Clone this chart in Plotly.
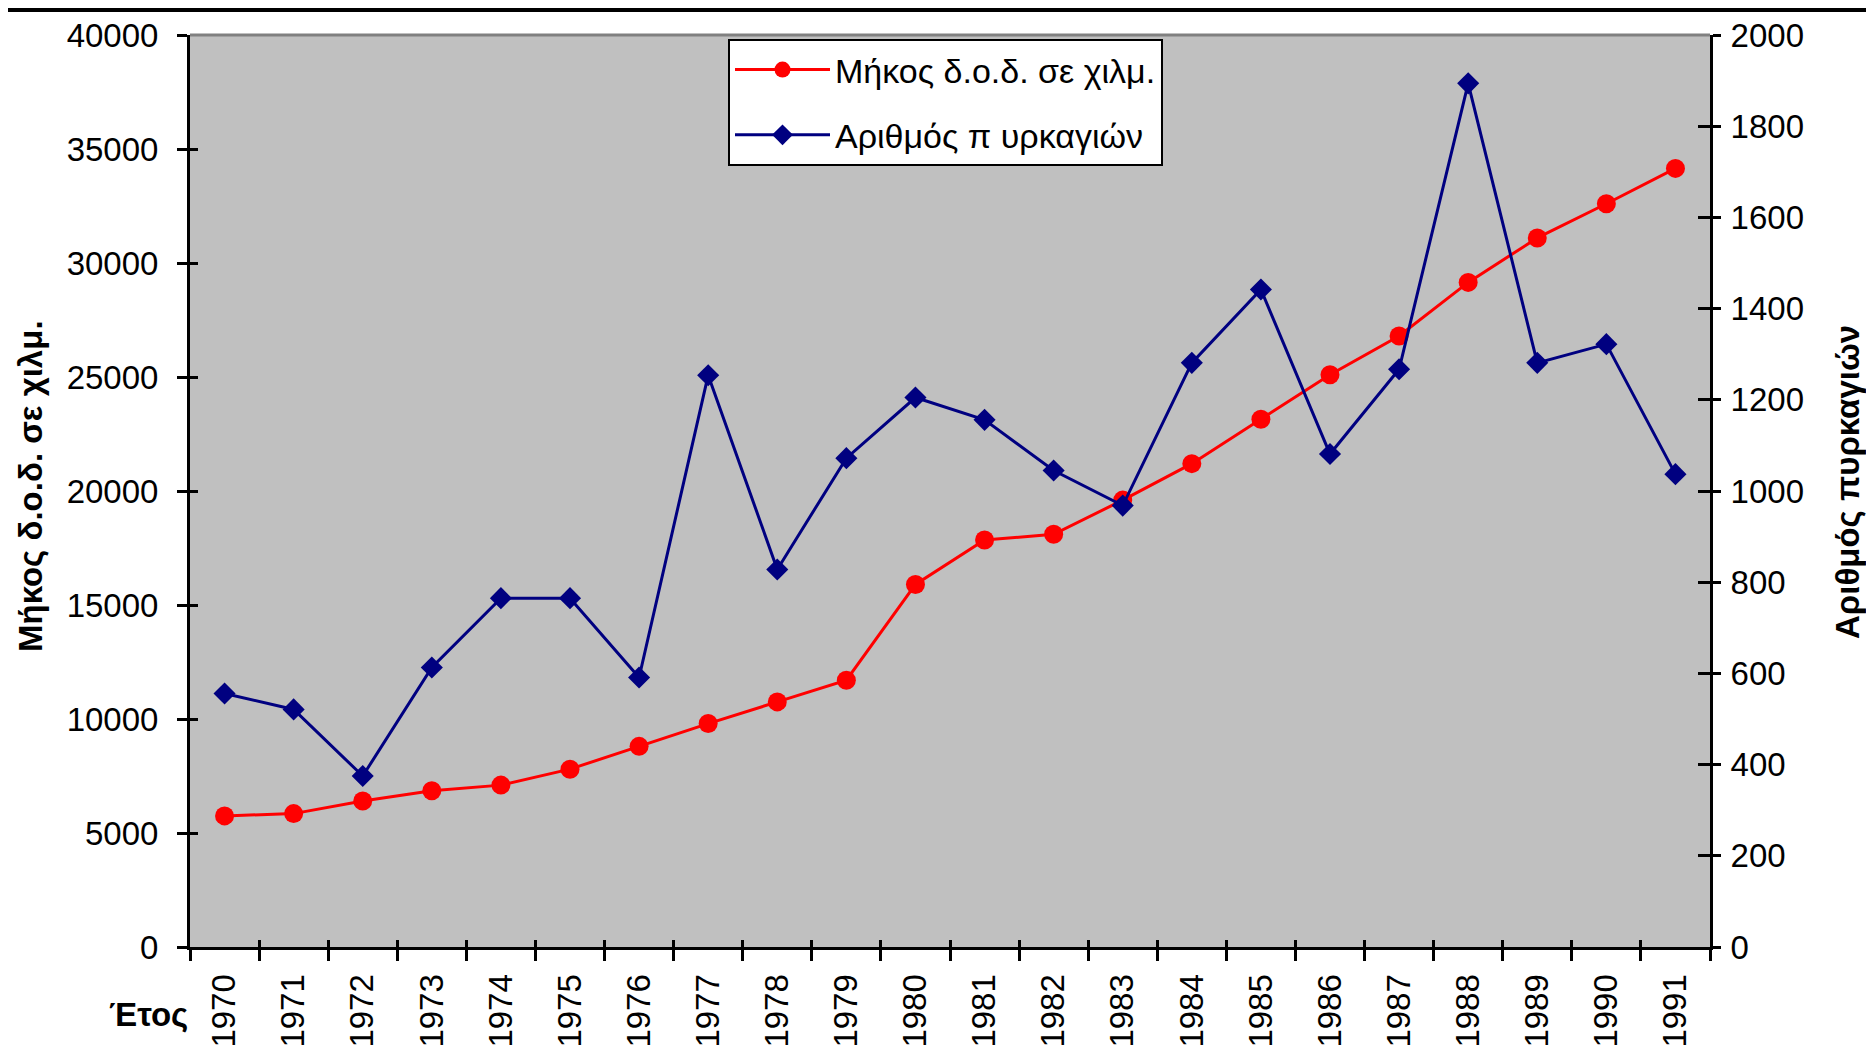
import plotly.graph_objects as go

years = [str(y) for y in range(1970, 1992)]
length_km = [5750, 5850, 6400, 6850, 7100, 7800, 8800, 9800, 10750, 11700, 15900,
             17850, 18100, 19600, 21200, 23150, 25100, 26800, 29150, 31100, 32600, 34150]
fires = [556, 521, 375, 613, 765, 765, 591, 1254, 828, 1072, 1205,
         1156, 1045, 968, 1281, 1442, 1081, 1267, 1894, 1281, 1322, 1037]

name_len = "Μήκος δ.ο.δ. σε χιλμ."
name_fires = "Αριθμός πυρκαγιών"
legend_fires = "Αριθμός π υρκαγιών"
x_title = "Έτος"

FONT = "Arial, Liberation Sans, sans-serif"
W, H = 1874, 1051
OFF = 8  # default page margin of the html body
# plot area in page pixels
PX0, PX1, PY0, PY1 = 190, 1710, 35, 947
L, T = PX0 - OFF, PY0 - OFF
R, B = W - (PX1 - OFF), H - (PY1 - OFF)
PW, PH = PX1 - PX0, PY1 - PY0


def px(xp):
    return (xp - PX0) / PW


def py(yp):
    return (PY1 - yp) / PH


fig = go.Figure()
fig.add_trace(go.Scatter(
    x=years, y=length_km, name=name_len, mode="lines+markers",
    line=dict(color="#FF0000", width=3),
    marker=dict(symbol="circle", size=19, color="#FF0000"),
    legendgroup="a", xaxis="x", yaxis="y"))
fig.add_trace(go.Scatter(
    x=years, y=fires, name=legend_fires, mode="lines+markers",
    line=dict(color="#000080", width=3),
    marker=dict(symbol="diamond", size=17, color="#000080"),
    legendgroup="b", xaxis="x", yaxis="y2"))
# empty helper traces so that the overlay tick axes are drawn
fig.add_trace(go.Scatter(x=[], y=[], xaxis="x2", yaxis="y3", showlegend=False))
fig.add_trace(go.Scatter(x=[], y=[], xaxis="x2", yaxis="y4", showlegend=False))

n = len(years)
bounds = [i - 0.5 for i in range(n + 1)]
tickfont = dict(family=FONT, size=33, color="black")

fig.update_layout(
    width=W, height=H,
    margin=dict(l=L, r=R, t=T, b=B, autoexpand=False),
    paper_bgcolor="white", plot_bgcolor="#C0C0C0",
    font=dict(family=FONT, size=33, color="black"),
    showlegend=True,
    legend=dict(
        x=px(728), y=py(39), xanchor="left", yanchor="top",
        bgcolor="white", bordercolor="black", borderwidth=2,
        font=dict(family=FONT, size=34, color="black"),
        traceorder="grouped", tracegroupgap=18, itemwidth=95,
    ),
    xaxis=dict(
        type="category", range=[-0.5, n - 0.5], tickson="boundaries",
        ticks="outside", ticklen=11, tickwidth=3, tickcolor="black",
        showline=True, linecolor="black", linewidth=3,
        showgrid=False, zeroline=False, tickangle=-90, tickfont=tickfont,
        ticklabelstandoff=11, anchor="y",
    ),
    xaxis2=dict(
        overlaying="x", range=[-0.5, n - 0.5], tickvals=bounds,
        ticks="inside", ticklen=7, tickwidth=3, tickcolor="black",
        showticklabels=False, showline=False, showgrid=False, zeroline=False,
        anchor="y", side="bottom",
    ),
    yaxis=dict(
        range=[0, 40000], dtick=5000, tick0=0, tickformat="d",
        ticks="outside", ticklen=10, tickwidth=3, tickcolor="black",
        showline=True, linecolor="black", linewidth=3,
        showgrid=False, zeroline=False, tickfont=tickfont,
        ticklabelstandoff=12, anchor="x",
    ),
    yaxis2=dict(
        range=[0, 2000], dtick=200, tick0=0, tickformat="d",
        overlaying="y", side="right",
        ticks="outside", ticklen=8, tickwidth=3, tickcolor="black",
        showline=True, linecolor="black", linewidth=3,
        showgrid=False, zeroline=False, tickfont=tickfont,
        ticklabelstandoff=3, anchor="x",
    ),
    yaxis3=dict(
        range=[0, 40000], dtick=5000, tick0=0, overlaying="y", side="left",
        ticks="inside", ticklen=8, tickwidth=3, tickcolor="black",
        showticklabels=False, showline=False, showgrid=False, zeroline=False,
        anchor="x2",
    ),
    yaxis4=dict(
        range=[0, 2000], dtick=200, tick0=0, overlaying="y", side="right",
        ticks="inside", ticklen=12, tickwidth=3, tickcolor="black",
        showticklabels=False, showline=False, showgrid=False, zeroline=False,
        anchor="x2",
    ),
    shapes=[
        dict(type="line", xref="paper", yref="paper", x0=0, x1=1, y0=1, y1=1,
             line=dict(color="#808080", width=3), layer="above"),
        dict(type="rect", xref="paper", yref="paper",
             x0=px(-20), x1=px(1900),
             y0=py(OFF + 4), y1=py(OFF - 4),
             fillcolor="black", line=dict(width=0)),
    ],
    annotations=[
        dict(text="<b>" + name_len + "</b>", textangle=-90, showarrow=False,
             xref="paper", yref="paper", x=px(31), y=py(486),
             xanchor="center", yanchor="middle",
             font=dict(family=FONT, size=33, color="black")),
        dict(text="<b>" + name_fires + "</b>", textangle=-90, showarrow=False,
             xref="paper", yref="paper", x=px(1847), y=py(482),
             xanchor="center", yanchor="middle",
             font=dict(family=FONT, size=33, color="black")),
        dict(text="<b>" + x_title + "</b>", showarrow=False,
             xref="paper", yref="paper", x=px(190), y=py(1014),
             xanchor="right", yanchor="middle",
             font=dict(family=FONT, size=33, color="black")),
    ],
)

fig.write_html("out.html")
